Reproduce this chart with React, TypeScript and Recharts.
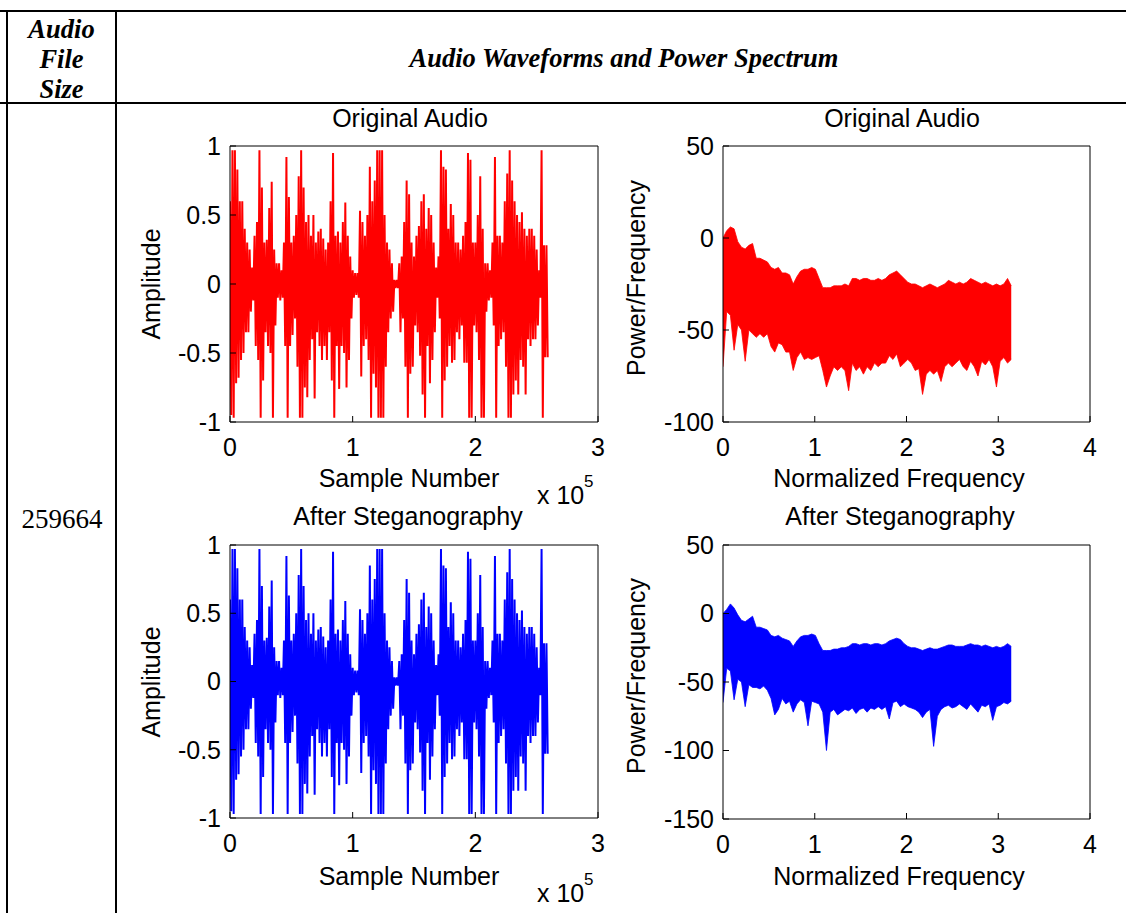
import React from 'react';
import { ComposedChart, Line, Area, XAxis, YAxis } from 'recharts';

// Waveform envelope: one max/min pair per 2000 samples
const WAVE_BIN = 2000;
const WAVE_LEN = 259664;

const origWaveHi = [
  0.6, 0.97, 0.97, 0.83, 0.6, 0.6, 0.4, 0.3, 0.25, 0.12,
  0.35, 0.45, 0.97, 0.7, 0.3, 0.32, 0.55, 0.74, 0.25, 0.15,
  0.15, 0.1, 0.3, 0.92, 0.63, 0.3, 0.35, 0.5, 0.78, 0.97,
  0.7, 0.45, 0.5, 0.35, 0.5, 0.3, 0.38, 0.4, 0.33, 0.25,
  0.3, 0.6, 0.95, 0.35, 0.38, 0.3, 0.45, 0.59, 0.35, 0.2,
  0.1, 0.08, 0.08, 0.53, 0.45, 0.35, 0.5, 0.85, 0.6, 0.75,
  0.97, 0.97, 0.97, 0.5, 0.3, 0.25, 0.15, 0.03, 0.03, 0.15,
  0.2, 0.45, 0.75, 0.65, 0.3, 0.2, 0.35, 0.42, 0.6, 0.65,
  0.4, 0.55, 0.5, 0.3, 0.12, 0.2, 0.97, 0.85, 0.83, 0.4,
  0.58, 0.5, 0.3, 0.3, 0.25, 0.35, 0.45, 0.95, 0.9, 0.3,
  0.3, 0.5, 0.78, 0.4, 0.15, 0.15, 0.1, 0.3, 0.92, 0.35,
  0.35, 0.3, 0.6, 0.8, 0.97, 0.75, 0.6, 0.5, 0.45, 0.52,
  0.4, 0.35, 0.4, 0.4, 0.35, 0.25, 0.1, 0.97, 0.28, 0.28,
];
const origWaveLo = [
  -0.95, -0.97, -0.72, -0.68, -0.55, -0.5, -0.35, -0.35, -0.2, -0.12,
  -0.45, -0.55, -0.97, -0.7, -0.35, -0.45, -0.5, -0.97, -0.3, -0.1,
  -0.12, -0.1, -0.45, -0.97, -0.45, -0.37, -0.25, -0.6, -0.97, -0.97,
  -0.75, -0.82, -0.55, -0.4, -0.83, -0.35, -0.45, -0.55, -0.45, -0.55,
  -0.35, -0.7, -0.97, -0.45, -0.76, -0.45, -0.5, -0.75, -0.55, -0.25,
  -0.1, -0.08, -0.1, -0.67, -0.45, -0.4, -0.55, -0.97, -0.65, -0.75,
  -0.97, -0.97, -0.97, -0.6, -0.35, -0.25, -0.2, -0.03, -0.03, -0.35,
  -0.25, -0.6, -0.97, -0.65, -0.6, -0.3, -0.35, -0.52, -0.8, -0.97,
  -0.45, -0.72, -0.55, -0.35, -0.1, -0.25, -0.97, -0.7, -0.6, -0.45,
  -0.57, -0.55, -0.35, -0.4, -0.3, -0.57, -0.57, -0.97, -0.97, -0.3,
  -0.35, -0.55, -0.97, -0.97, -0.2, -0.12, -0.1, -0.3, -0.97, -0.45,
  -0.4, -0.35, -0.6, -0.97, -0.97, -0.8, -0.7, -0.8, -0.55, -0.6,
  -0.8, -0.4, -0.45, -0.4, -0.4, -0.3, -0.1, -0.97, -0.53, -0.53,
];
// after steganography the waveform is visually the same as the original
const stegoWaveHi = origWaveHi;
const stegoWaveLo = origWaveLo;

// Power spectrum envelope (dB), 79 max/min pairs spread over 0..pi
const SPEC_END = 3.1416;

const origSpecHi = [
  0, 4, 6, 5, -2, -5, -6, -4, -3, -11,
  -11, -12, -13, -16, -17, -16, -19, -19, -20, -25,
  -21, -18, -17, -17, -16, -17, -22, -27, -27, -27,
  -26, -26, -26, -25, -26, -22, -22, -23, -22, -22,
  -23, -23, -22, -23, -22, -20, -19, -18, -20, -22,
  -24, -25, -25, -26, -27, -26, -25, -26, -27, -26,
  -25, -23, -24, -25, -24, -25, -24, -22, -23, -24,
  -25, -24, -25, -26, -25, -26, -25, -22, -26,
];
const origSpecLo = [
  -70, -40, -42, -61, -47, -50, -67, -50, -52, -54,
  -52, -54, -52, -59, -62, -57, -58, -62, -62, -72,
  -65, -62, -66, -65, -66, -65, -64, -72, -81, -75,
  -70, -72, -70, -72, -83, -68, -72, -70, -74, -70,
  -72, -68, -70, -68, -68, -64, -66, -63, -70, -68,
  -66, -68, -72, -71, -85, -74, -72, -74, -72, -78,
  -70, -68, -70, -68, -66, -70, -72, -67, -70, -75,
  -67, -69, -66, -70, -81, -67, -65, -68, -66,
];
const stegoSpecHi = [
  0, 3, 7, 4, -1, -5, -6, -4, -2, -10,
  -10, -11, -12, -16, -17, -16, -18, -19, -20, -24,
  -20, -17, -16, -16, -15, -16, -22, -27, -27, -27,
  -26, -26, -25, -25, -24, -22, -22, -23, -22, -22,
  -23, -22, -22, -23, -22, -20, -19, -18, -19, -22,
  -24, -25, -25, -26, -27, -26, -25, -26, -26, -25,
  -24, -23, -23, -24, -24, -24, -23, -22, -23, -23,
  -24, -23, -24, -25, -24, -25, -24, -22, -24,
];
const stegoSpecLo = [
  -65, -40, -42, -63, -48, -50, -68, -52, -54, -54,
  -55, -53, -56, -62, -74, -70, -62, -66, -64, -72,
  -66, -63, -65, -82, -64, -65, -66, -72, -100, -72,
  -70, -74, -72, -70, -71, -69, -73, -70, -69, -72,
  -69, -70, -68, -70, -68, -77, -65, -64, -68, -66,
  -68, -69, -70, -72, -76, -72, -70, -97, -75, -70,
  -68, -67, -69, -68, -66, -68, -70, -66, -69, -72,
  -67, -68, -66, -78, -68, -67, -65, -66, -64,
];

const WAVE_X_TICKS = [0, 100000, 200000, 300000];
const WAVE_Y_TICKS = [-1, -0.5, 0, 0.5, 1];
const SPEC_X_TICKS = [0, 1, 2, 3, 4];
const SPEC_Y_TICKS_TOP = [-100, -50, 0, 50];
const SPEC_Y_TICKS_BOTTOM = [-150, -100, -50, 0, 50];

const SANS = '"Liberation Sans", Arial, Helvetica, sans-serif';
const SERIF = '"Liberation Serif", "Times New Roman", serif';

// waveform: max/min per bin drawn as one zig-zag trace, like a dense plot
const zigzag = (hi: number[], lo: number[], step: number, end: number) => {
  const pts: { x: number; y: number }[] = [];
  hi.forEach((h, i) => {
    pts.push({ x: i * step, y: h });
    pts.push({ x: Math.min(i * step + step / 2, end), y: lo[i] });
  });
  return pts;
};

// spectrum: solid band between min and max
const band = (hi: number[], lo: number[], end: number) =>
  hi.map((h, i) => ({ x: (i * end) / (hi.length - 1), band: [lo[i], h] }));

const origWave = zigzag(origWaveHi, origWaveLo, WAVE_BIN, WAVE_LEN);
const stegoWave = zigzag(stegoWaveHi, stegoWaveLo, WAVE_BIN, WAVE_LEN);
const origSpec = band(origSpecHi, origSpecLo, SPEC_END);
const stegoSpec = band(stegoSpecHi, stegoSpecLo, SPEC_END);

const PL = 110, PT = 22, PR = 14, PB = 50;

const Panel = ({ x, y, w, h, data, color, spectrum, xDomain, xTicks, xFmt, yDomain, yTicks }: any) => (
  <div style={{ position: 'absolute', left: x - PL, top: y - PT, fontFamily: SANS }}>
    <ComposedChart
      width={w + PL + PR}
      height={h + PT + PB}
      data={data}
      margin={{ top: PT - 1, right: PR - 1, bottom: PB - 40, left: PL - 100 }}
    >
      <XAxis
        dataKey="x"
        type="number"
        domain={xDomain}
        ticks={xTicks}
        tickFormatter={xFmt}
        interval={0}
        height={40}
        stroke="#000"
        tickSize={-6}
        tickMargin={22}
        tick={{ fill: '#000', fontSize: 25 }}
        allowDataOverflow
      />
      <XAxis
        xAxisId="top"
        orientation="top"
        type="number"
        domain={xDomain}
        ticks={xTicks}
        interval={0}
        height={1}
        stroke="#000"
        tickSize={-6}
        tick={false}
        allowDataOverflow
      />
      <YAxis
        type="number"
        domain={yDomain}
        ticks={yTicks}
        interval={0}
        width={100}
        stroke="#000"
        tickSize={-6}
        tickMargin={15}
        tick={{ fill: '#000', fontSize: 25 }}
        allowDataOverflow
      />
      <YAxis
        yAxisId="right"
        orientation="right"
        type="number"
        domain={yDomain}
        ticks={yTicks}
        interval={0}
        width={1}
        stroke="#000"
        tickSize={-6}
        tick={false}
        allowDataOverflow
      />
      {spectrum ? (
        <Area
          dataKey="band"
          type="linear"
          stroke={color}
          strokeWidth={0.8}
          fill={color}
          fillOpacity={1}
          dot={false}
          activeDot={false}
          isAnimationActive={false}
        />
      ) : (
        <Line
          dataKey="y"
          type="linear"
          stroke={color}
          strokeWidth={2}
          strokeLinejoin="bevel"
          dot={false}
          activeDot={false}
          isAnimationActive={false}
        />
      )}
    </ComposedChart>
  </div>
);

const Txt = ({ x, y, children, rotate, size = 25, font = SANS, style }: any) => (
  <div
    style={{
      position: 'absolute',
      left: x,
      top: y,
      transform: `translate(-50%, -50%)${rotate ? ' rotate(-90deg)' : ''}`,
      whiteSpace: 'nowrap',
      fontSize: size,
      fontFamily: font,
      lineHeight: 1,
      color: '#000',
      ...style,
    }}
  >
    {children}
  </div>
);

const Rule = ({ x, y, w, h }: any) => (
  <div style={{ position: 'absolute', left: x, top: y, width: w, height: h, background: '#000' }} />
);

const Exp = ({ x, y }: any) => (
  <div style={{ position: 'absolute', left: x, top: y, fontFamily: SANS, color: '#000', whiteSpace: 'nowrap' }}>
    <span style={{ position: 'absolute', left: 0, top: 0, fontSize: 25, lineHeight: 1 }}>x 10</span>
    <span style={{ position: 'absolute', left: 47, top: -10, fontSize: 17, lineHeight: 1 }}>5</span>
  </div>
);

const waveFmt = (v: number) => String(v / 100000);

export default function App() {
  const head = { fontWeight: 'bold', fontStyle: 'italic' };
  return (
    <div style={{ position: 'absolute', left: 0, top: 0, width: 1126, height: 913, background: '#fff', overflow: 'hidden' }}>
      {/* table rules */}
      <Rule x={0} y={10} w={1126} h={2} />
      <Rule x={0} y={102} w={1126} h={2} />
      <Rule x={6} y={10} w={2} h={903} />
      <Rule x={115} y={10} w={2} h={903} />

      <div
        style={{
          position: 'absolute', left: 8, top: 14, width: 107, textAlign: 'center',
          fontFamily: SERIF, fontSize: 26.5, lineHeight: '30px', ...head,
        }}
      >
        Audio<br />File<br />Size
      </div>
      <Txt x={624} y={58} font={SERIF} size={26.5} style={head}>Audio Waveforms and Power Spectrum</Txt>
      <Txt x={62} y={519} font={SERIF} size={27}>259664</Txt>

      {/* original audio */}
      <Txt x={410} y={118}>Original Audio</Txt>
      <Txt x={902} y={118}>Original Audio</Txt>
      <Panel x={230} y={146} w={368} h={276} data={origWave} color="#ff0000"
        xDomain={[0, 300000]} xTicks={WAVE_X_TICKS} xFmt={waveFmt} yDomain={[-1, 1]} yTicks={WAVE_Y_TICKS} />
      <Panel x={723} y={146} w={367} h={276} data={origSpec} color="#ff0000" spectrum
        xDomain={[0, 4]} xTicks={SPEC_X_TICKS} yDomain={[-100, 50]} yTicks={SPEC_Y_TICKS_TOP} />
      <Txt x={151} y={284} rotate>Amplitude</Txt>
      <Txt x={636} y={278} rotate>Power/Frequency</Txt>
      <Txt x={409} y={478}>Sample Number</Txt>
      <Txt x={899} y={478}>Normalized Frequency</Txt>
      <Exp x={537} y={483} />

      {/* after steganography */}
      <Txt x={408} y={516}>After Steganography</Txt>
      <Txt x={900} y={516}>After Steganography</Txt>
      <Panel x={230} y={545} w={368} h={273} data={stegoWave} color="#0000ff"
        xDomain={[0, 300000]} xTicks={WAVE_X_TICKS} xFmt={waveFmt} yDomain={[-1, 1]} yTicks={WAVE_Y_TICKS} />
      <Panel x={723} y={545} w={367} h={274} data={stegoSpec} color="#0000ff" spectrum
        xDomain={[0, 4]} xTicks={SPEC_X_TICKS} yDomain={[-150, 50]} yTicks={SPEC_Y_TICKS_BOTTOM} />
      <Txt x={151} y={682} rotate>Amplitude</Txt>
      <Txt x={636} y={676} rotate>Power/Frequency</Txt>
      <Txt x={409} y={876}>Sample Number</Txt>
      <Txt x={899} y={876}>Normalized Frequency</Txt>
      <Exp x={537} y={881} />
    </div>
  );
}
